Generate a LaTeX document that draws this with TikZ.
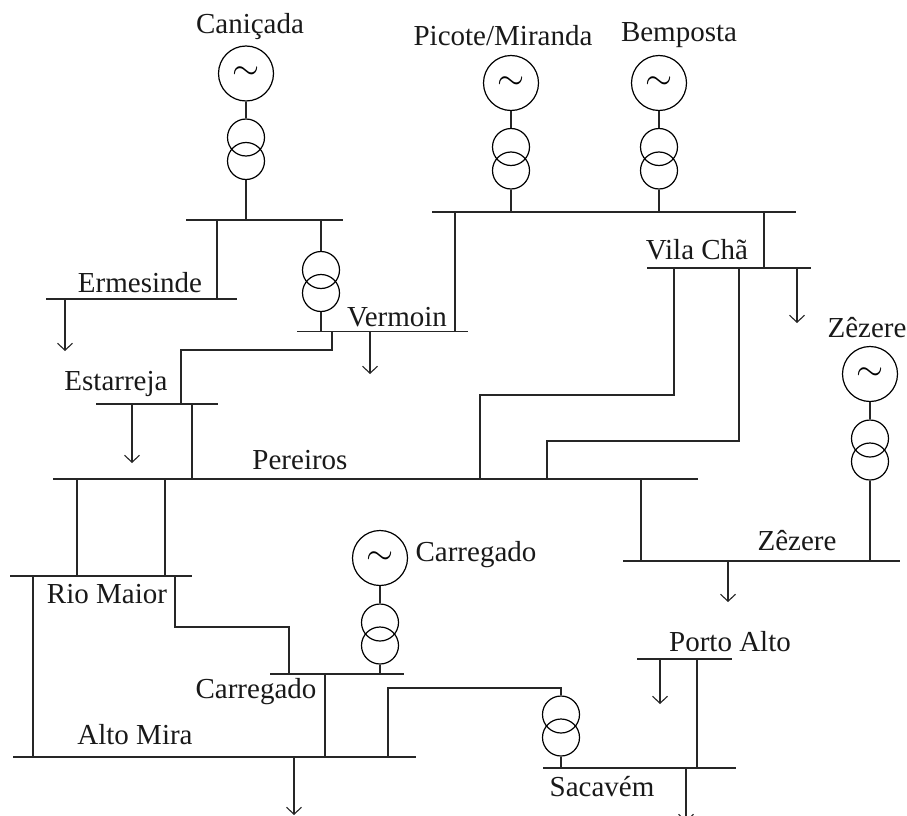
\documentclass[tikz,border=0pt]{standalone}
\usepackage{graphicx}
\usepackage{fontspec}
\setmainfont{Liberation Serif}
\usetikzlibrary{arrows.meta}
\newcommand{\actilde}{\scalebox{1.4}{$\sim$}}
\tikzset{
  wire/.style={line width=1.7pt,color=black!85},
  load/.style={wire,-{Straight Barb[length=7pt,width=15pt,line width=1.1pt]}},
  busbar/.style={line width=1.7pt,color=black!85},
  lbl/.style={inner sep=0pt,font=\fontsize{29}{30}\selectfont,color=black!90},
  gen/.style={circle,draw,line width=1.2pt,minimum size=55pt,inner sep=0pt,font=\fontsize{25}{25}\selectfont},
  winding/.style={circle,draw,line width=1.2pt,minimum size=37pt,inner sep=0pt},
}
\begin{document}
\begin{tikzpicture}[x=1pt,y=-1pt]
\useasboundingbox (0,0) rectangle (907,816);
\clip (0,0) rectangle (907,816);
% bus end points
\coordinate (canL) at (186,220);   \coordinate (canR) at (343,220);
\coordinate (ermL) at (46,299);    \coordinate (ermR) at (237,299);
\coordinate (verL) at (297,331.5); \coordinate (verR) at (468,331.5);
\coordinate (estL) at (96,404);    \coordinate (estR) at (218,404);
\coordinate (perL) at (53,479);    \coordinate (perR) at (698,479);
\coordinate (rioL) at (10,576);    \coordinate (rioR) at (192,576);
\coordinate (altL) at (13,757);    \coordinate (altR) at (416,757);
\coordinate (carL) at (270,674);   \coordinate (carR) at (404,674);
\coordinate (sacL) at (543,768);   \coordinate (sacR) at (736,768);
\coordinate (porL) at (637,659);   \coordinate (porR) at (732,659);
\coordinate (picL) at (432,212);   \coordinate (picR) at (796,212);
\coordinate (vilL) at (647,268);   \coordinate (vilR) at (811,268);
\coordinate (zezL) at (623,561);   \coordinate (zezR) at (900,561);
\foreach \b in {can,erm,ver,est,per,rio,alt,car,sac,por,pic,vil,zez}
  \draw[busbar] (\b L) -- (\b R);
% generators and transformers
\node[gen] (g1) at (246,73.5) {\actilde};
\node[winding] (t1a) at (246,137.5) {};
\node[winding] (t1b) at (246,161) {};
\node[gen] (g2) at (511,83) {\actilde};
\node[winding] (t2a) at (511,147) {};
\node[winding] (t2b) at (511,170.5) {};
\node[gen] (g3) at (659,83) {\actilde};
\node[winding] (t3a) at (659,147) {};
\node[winding] (t3b) at (659,170.5) {};
\node[gen] (g4) at (870,374) {\actilde};
\node[winding] (t4a) at (870,438.5) {};
\node[winding] (t4b) at (870,461.5) {};
\node[gen] (g5) at (380,558) {\actilde};
\node[winding] (t5a) at (380,622.5) {};
\node[winding] (t5b) at (380,645.5) {};
\node[winding] (t6a) at (321,270) {};
\node[winding] (t6b) at (321,293) {};
\node[winding] (t7a) at (561,714.5) {};
\node[winding] (t7b) at (561,737.5) {};
% generator branches
\draw[wire] (g1.south) -- (t1a.north);
\draw[wire] (t1b.south) -- (t1b.south |- canL);
\draw[wire] (g2.south) -- (t2a.north);
\draw[wire] (t2b.south) -- (t2b.south |- picL);
\draw[wire] (g3.south) -- (t3a.north);
\draw[wire] (t3b.south) -- (t3b.south |- picL);
\draw[wire] (g4.south) -- (t4a.north);
\draw[wire] (t4b.south) -- (t4b.south |- zezL);
\draw[wire] (g5.south) -- (t5a.north);
\draw[wire] (t5b.south) -- (t5b.south |- carL);
\draw[wire] (t6a.north) -- (t6a.north |- canL);
\draw[wire] (t6b.south) -- (t6b.south |- verL);
\draw[wire] (t7b.south) -- (t7b.south |- sacL);
% lines between buses
\coordinate (x217) at (217,0); \draw[wire] (x217 |- canL) -- (x217 |- ermL);
\coordinate (x455) at (455,0); \draw[wire] (x455 |- picL) -- (x455 |- verL);
\coordinate (x764) at (764,0); \draw[wire] (x764 |- picL) -- (x764 |- vilL);
\coordinate (x332) at (332,0); \coordinate (x181) at (181,0);
\draw[wire] (x332 |- verL) -- (332,350) -- (181,350) -- (x181 |- estL);
\coordinate (x192) at (192,0); \draw[wire] (x192 |- estL) -- (x192 |- perL);
\coordinate (x674) at (674,0); \coordinate (x480) at (480,0);
\draw[wire] (x674 |- vilL) -- (674,395) -- (480,395) -- (x480 |- perL);
\coordinate (x739) at (739,0); \coordinate (x547) at (547,0);
\draw[wire] (x739 |- vilL) -- (739,441) -- (547,441) -- (x547 |- perL);
\coordinate (x641) at (641,0); \draw[wire] (x641 |- perL) -- (x641 |- zezL);
\coordinate (x77) at (77,0);   \draw[wire] (x77 |- perL) -- (x77 |- rioL);
\coordinate (x165) at (165,0); \draw[wire] (x165 |- perL) -- (x165 |- rioL);
\coordinate (x33) at (33,0);   \draw[wire] (x33 |- rioL) -- (x33 |- altL);
\coordinate (x175) at (175,0); \coordinate (x289) at (289,0);
\draw[wire] (x175 |- rioL) -- (175,627) -- (289,627) -- (x289 |- carL);
\coordinate (x325) at (325,0); \draw[wire] (x325 |- carL) -- (x325 |- altL);
\coordinate (x388) at (388,0);
\draw[wire] (x388 |- altL) -- (388,688) -- (561,688) -- (t7a.north);
\coordinate (x697) at (697,0); \draw[wire] (x697 |- sacL) -- (x697 |- porL);
% loads
\coordinate (l1) at (65,351);   \draw[load] (l1 |- ermL) -- (l1);
\coordinate (l2) at (370,374);  \draw[load] (l2 |- verL) -- (l2);
\coordinate (l3) at (132,463);  \draw[load] (l3 |- estL) -- (l3);
\coordinate (l4) at (797,323);  \draw[load] (l4 |- vilL) -- (l4);
\coordinate (l5) at (728,602);  \draw[load] (l5 |- zezL) -- (l5);
\coordinate (l6) at (660,704);  \draw[load] (l6 |- porL) -- (l6);
\coordinate (l7) at (294,815);  \draw[load] (l7 |- altL) -- (l7);
\coordinate (l8) at (686,822);  \draw[load] (l8 |- sacL) -- (l8);
% labels
\node[lbl] (n1) at (250,27) {Caniçada};
\node[lbl] (n2) at (503,36) {Picote/Miranda};
\node[lbl] (n3) at (679,35) {Bemposta};
\node[lbl] (n4) at (140,283) {Ermesinde};
\node[lbl] (n5) at (397,317) {Vermoin};
\node[lbl] (n6) at (697,250) {Vila Chã};
\node[lbl] (n7) at (867,328) {Zêzere};
\node[lbl] (n8) at (116,384) {Estarreja};
\node[lbl] (n9) at (300,460) {Pereiros};
\node[lbl] (n10) at (107,594) {Rio Maior};
\node[lbl] (n11) at (476,555) {Carregado};
\node[lbl] (n12) at (797,541) {Zêzere};
\node[lbl] (n13) at (256,692) {Carregado};
\node[lbl] (n14) at (135,735) {Alto Mira};
\node[lbl] (n15) at (730,642) {Porto Alto};
\node[lbl] (n16) at (602,787) {Sacavém};
\end{tikzpicture}
\end{document}
